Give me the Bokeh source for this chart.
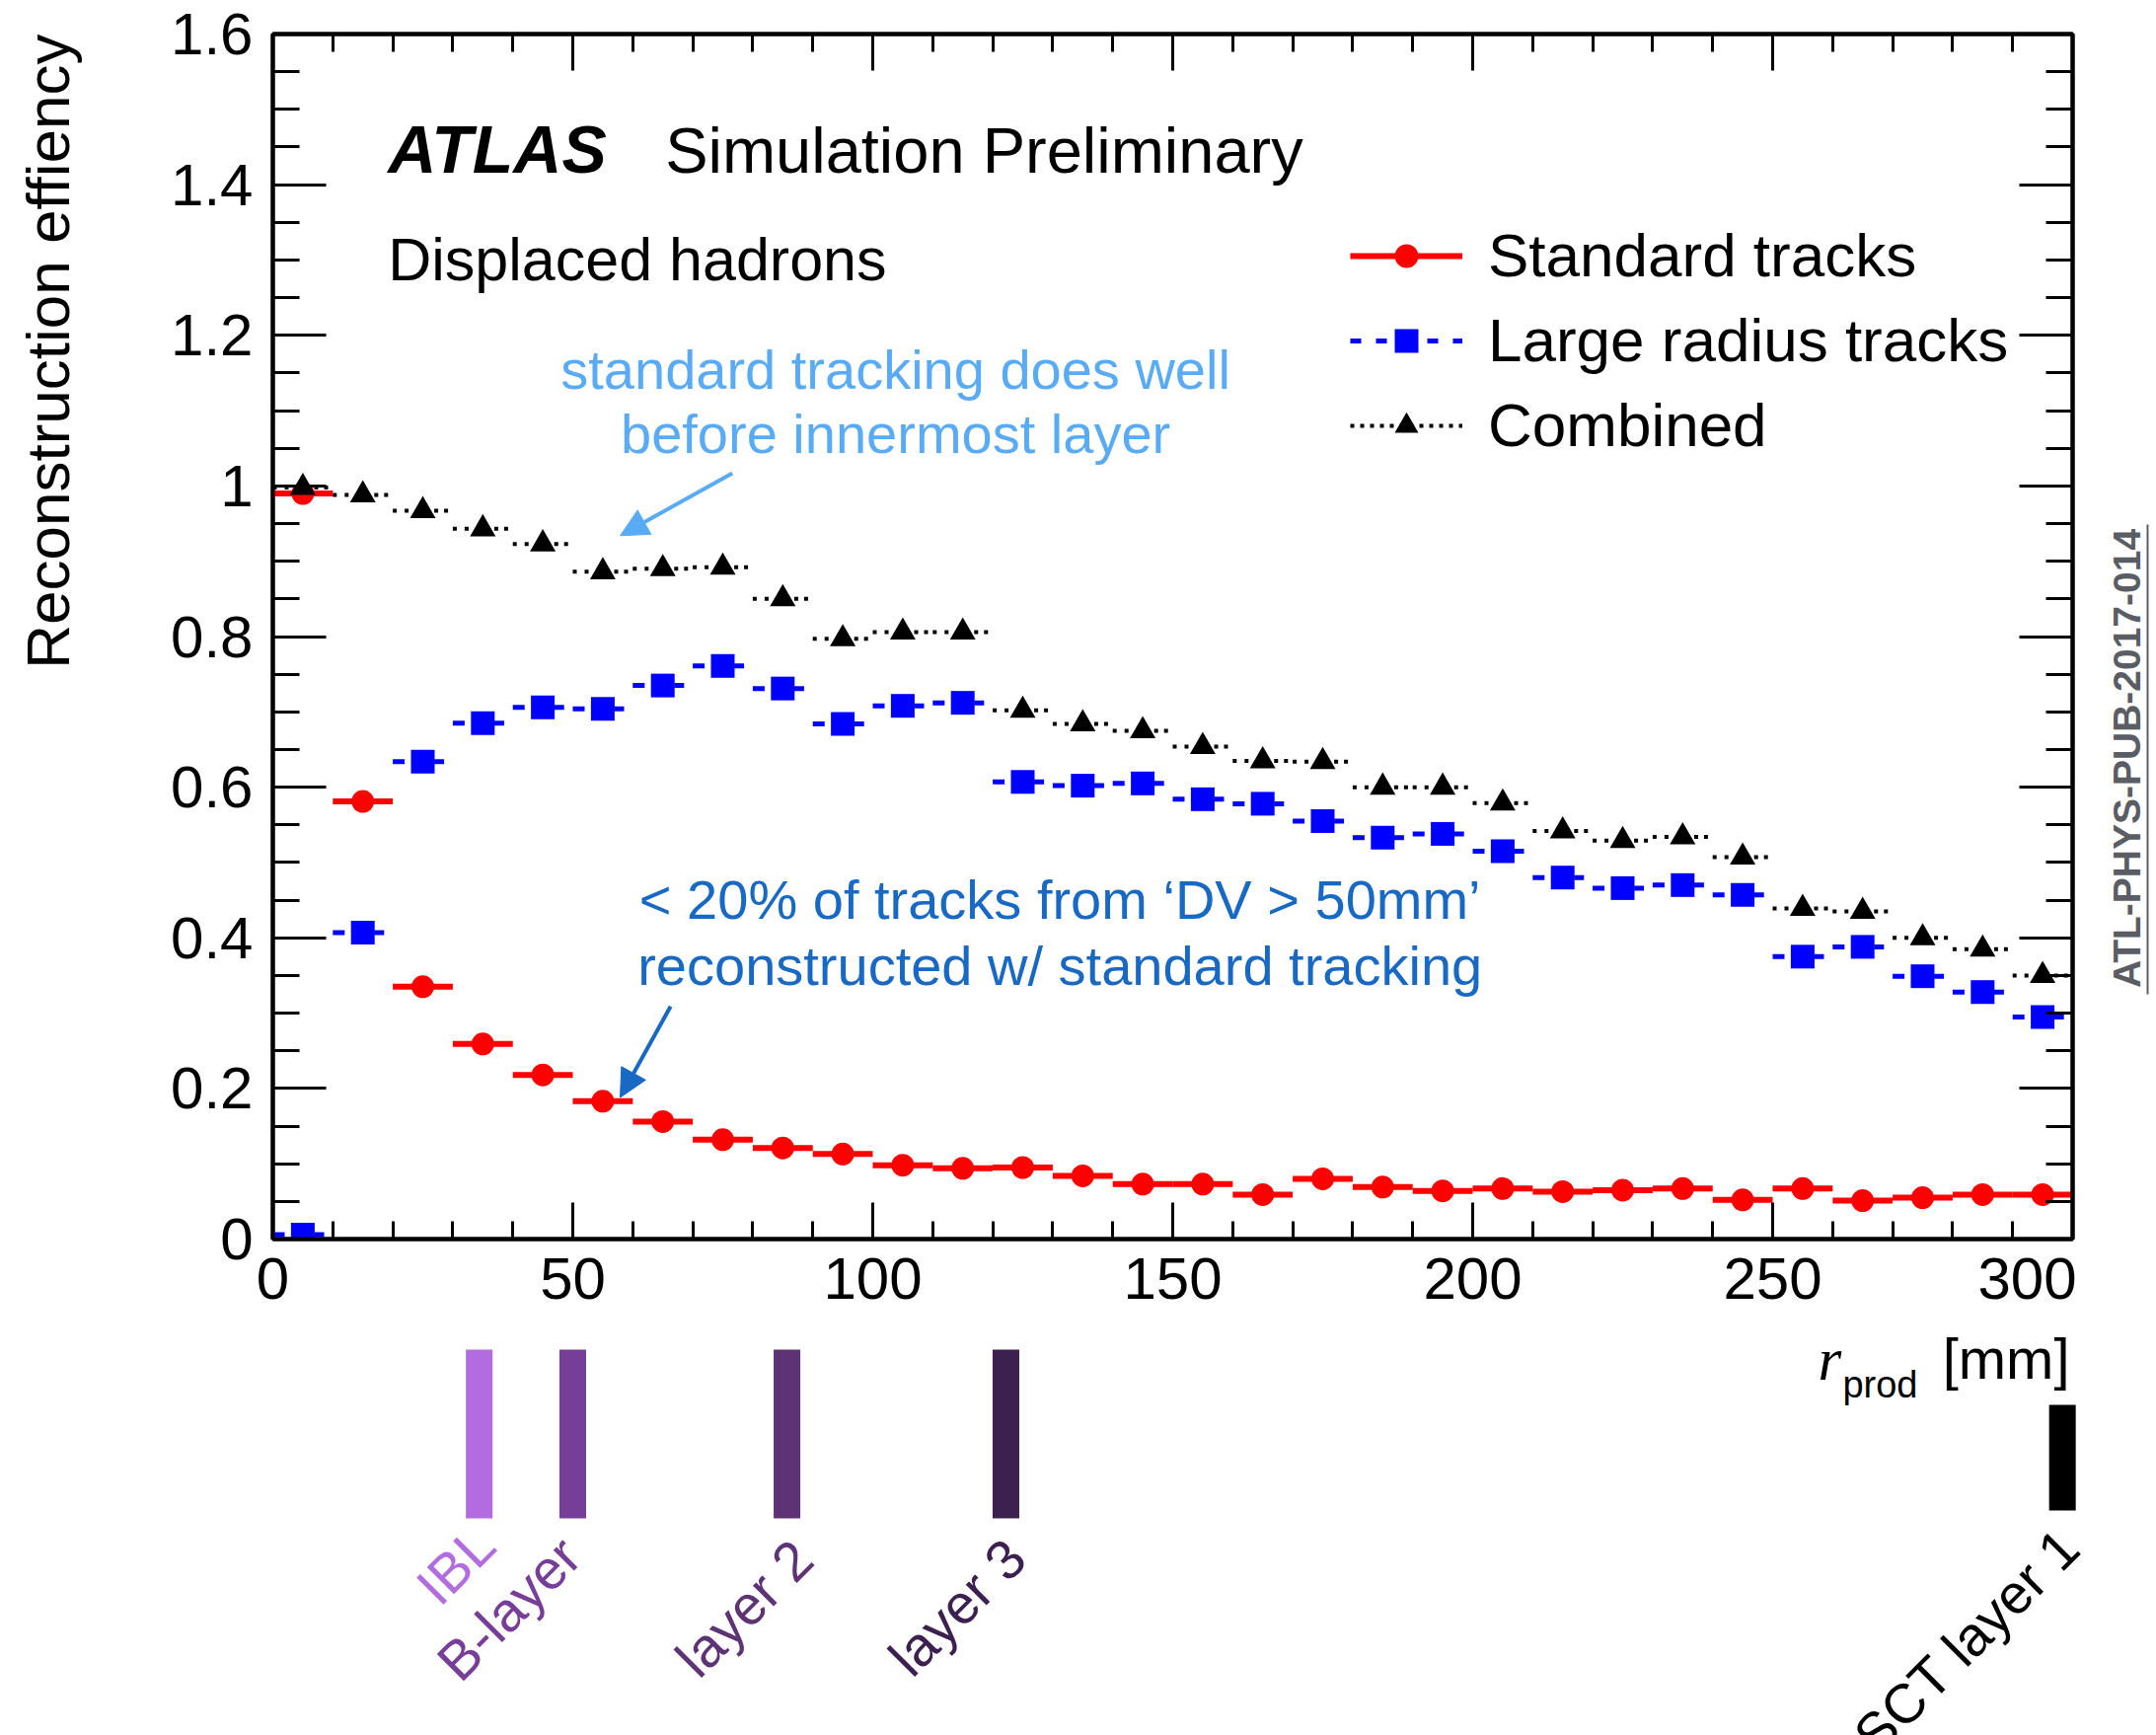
import math
from bokeh.plotting import figure
from bokeh.models import (Range1d, LinearAxis, SingleIntervalTicker, Label, Arrow,
                          NormalHead, Legend, LegendItem, ColumnDataSource, CustomJSTickFormatter)
from bokeh.layouts import column, row
from bokeh.embed import file_html
from bokeh.resources import INLINE

# ---------------- data ----------------
r_centers = [5, 15, 25, 35, 45, 55, 65, 75, 85, 95, 105, 115, 125, 135, 145,
             155, 165, 175, 185, 195, 205, 215, 225, 235, 245, 255, 265, 275, 285, 295]
bin_half = 5

standard = [0.990, 0.581, 0.335, 0.259, 0.218, 0.183, 0.156, 0.132, 0.121, 0.113,
            0.098, 0.094, 0.095, 0.084, 0.073, 0.073, 0.059, 0.080, 0.069, 0.064,
            0.067, 0.063, 0.065, 0.067, 0.052, 0.067, 0.051, 0.055, 0.059, 0.059]
large_radius = [0.006, 0.407, 0.634, 0.685, 0.706, 0.704, 0.735, 0.761, 0.731, 0.684,
                0.708, 0.712, 0.607, 0.602, 0.605, 0.584, 0.578, 0.555, 0.533, 0.538,
                0.515, 0.480, 0.466, 0.470, 0.457, 0.375, 0.388, 0.349, 0.328, 0.295]
combined = [0.998, 0.988, 0.967, 0.943, 0.923, 0.886, 0.890, 0.892, 0.850, 0.797,
            0.806, 0.806, 0.702, 0.684, 0.675, 0.654, 0.635, 0.634, 0.600, 0.600,
            0.579, 0.542, 0.529, 0.534, 0.507, 0.439, 0.435, 0.400, 0.385, 0.350]

series_names = ["Standard tracks", "Large radius tracks", "Combined"]

x_ticks_interval = 50
y_ticks_interval = 0.2

layer_names = ["IBL", "B-layer", "layer 2", "layer 3", "SCT layer 1"]
layer_radii = [34.4, 50.0, 85.7, 122.2, 298.3]
layer_colors = ["#b36be0", "#773e99", "#5d3376", "#3c2050", "#000000"]

y_title = "Reconstruction effiency"
doc_ref = "ATL-PHYS-PUB-2017-014"

# ---------------- layout / styles ----------------
FONT = "Liberation Sans"
RED, BLUE, BLACK = "#ff0000", "#0000ff", "#000000"
LIGHTBLUE, DARKBLUE = "#5aabf5", "#1769c4"
GREY = "#5a5e64"
DESC = 0.21  # font descent (em): baseline placed at y with "bottom" anchoring + offset

W = 2185
H_TOP = 1343                 # height of the upper row (plot + side strips)
H_LOW = 1758 - H_TOP         # detector-layer strip
W_LEFT_STRIP = 100           # strip holding the y-axis title
W_RIGHT_STRIP = 81           # strip holding the document reference
FRAME_L, FRAME_R, FRAME_T, FRAME_B = 276, 2100, 34, 1255
W_MAIN = W - W_LEFT_STRIP - W_RIGHT_STRIP
X0, X1 = 0, 300
px_per_unit = (FRAME_R - FRAME_L) / (X1 - X0)


def bare(width, height, xr, yr):
    f = figure(width=width, height=height, x_range=xr, y_range=yr, output_backend="svg",
               toolbar_location=None, min_border_left=0, min_border_right=0, min_border_top=0,
               min_border_bottom=0, x_axis_location=None, y_axis_location=None,
               outline_line_color=None)
    f.frame_align = False
    f.grid.visible = False
    f.background_fill_color = "white"
    f.border_fill_color = "white"
    return f


# ---------------- main plot ----------------
p = figure(width=W_MAIN, height=H_TOP, x_range=Range1d(X0, X1), y_range=Range1d(0, 1.6),
           output_backend="svg", toolbar_location=None,
           min_border_left=FRAME_L - W_LEFT_STRIP, min_border_right=W - W_RIGHT_STRIP - FRAME_R,
           min_border_top=FRAME_T, min_border_bottom=H_TOP - FRAME_B)
p.frame_align = False
p.xgrid.visible = False
p.ygrid.visible = False
p.outline_line_color = "black"
p.outline_line_width = 4
p.background_fill_color = "white"
p.border_fill_color = "white"

empty_fmt = CustomJSTickFormatter(code="return ''")


def style_x(ax, labels):
    ax.ticker = SingleIntervalTicker(interval=x_ticks_interval, num_minor_ticks=5)
    ax.major_tick_in = 37
    ax.major_tick_out = 0
    ax.minor_tick_in = 18
    ax.minor_tick_out = 0
    ax.major_tick_line_width = 3
    ax.minor_tick_line_width = 3
    ax.axis_line_width = 4
    ax.major_label_text_font = FONT
    ax.major_label_text_font_size = "60px"
    ax.major_label_text_color = "black"
    if labels:
        ax.major_label_standoff = 19
    else:
        ax.formatter = empty_fmt
        ax.major_label_standoff = 0


def style_y(ax, labels):
    ax.ticker = SingleIntervalTicker(interval=y_ticks_interval, num_minor_ticks=4)
    ax.major_tick_in = 54
    ax.major_tick_out = 0
    ax.minor_tick_in = 27
    ax.minor_tick_out = 0
    ax.major_tick_line_width = 3
    ax.minor_tick_line_width = 3
    ax.axis_line_width = 4
    ax.major_label_text_font = FONT
    ax.major_label_text_font_size = "60px"
    ax.major_label_text_color = "black"
    if labels:
        ax.formatter = CustomJSTickFormatter(code="return Number(tick.toFixed(2)).toString()")
        ax.major_label_standoff = 20
    else:
        ax.formatter = empty_fmt
        ax.major_label_standoff = 0


style_x(p.xaxis[0], True)
style_y(p.yaxis[0], True)
top_ax = LinearAxis()
style_x(top_ax, False)
p.add_layout(top_ax, "above")
right_ax = LinearAxis()
style_y(right_ax, False)
p.add_layout(right_ax, "right")

# ---------------- series ----------------
x_lo = [c - bin_half for c in r_centers]
x_hi = [c + bin_half for c in r_centers]

src_std = ColumnDataSource(dict(x=r_centers, x0=x_lo, x1=x_hi, y=standard))
src_lrt = ColumnDataSource(dict(x=r_centers, x0=x_lo, x1=x_hi, y=large_radius))
src_cmb = ColumnDataSource(dict(x=r_centers, x0=x_lo, x1=x_hi, y=combined))

p.segment(x0="x0", x1="x1", y0="y", y1="y", source=src_std, line_color=RED, line_width=6,
          line_cap="butt")
p.scatter(x="x", y="y", source=src_std, marker="circle", size=23, fill_color=RED, line_color=None)

p.segment(x0="x0", x1="x1", y0="y", y1="y", source=src_lrt, line_color=BLUE, line_width=5,
          line_dash="12 30 10 20", line_cap="butt")
p.scatter(x="x", y="y", source=src_lrt, marker="square", size=24, fill_color=BLUE, line_color=None)

p.segment(x0="x0", x1="x1", y0="y", y1="y", source=src_cmb, line_color=BLACK, line_width=4,
          line_dash="4 8 4 26 4 6 4 10", line_cap="butt")
p.scatter(x="x", y="y", source=src_cmb, marker="triangle", size=26, fill_color=BLACK, line_color=None)

# ---------------- legend (legend-only renderers, one point far outside the frame) ----------------
leg_src = ColumnDataSource(dict(x=[-1000.0], y=[-1000.0]))
l1 = p.line(x="x", y="y", source=leg_src, line_color=RED, line_width=6)
m1 = p.scatter(x="x", y="y", source=leg_src, marker="circle", fill_color=RED, line_color=None)
l2 = p.line(x="x", y="y", source=leg_src, line_color=BLUE, line_width=5, line_dash="11 15")
m2 = p.scatter(x="x", y="y", source=leg_src, marker="square", fill_color=BLUE, line_color=None)
l3 = p.line(x="x", y="y", source=leg_src, line_color=BLACK, line_width=4, line_dash="4 6")
m3 = p.scatter(x="x", y="y", source=leg_src, marker="triangle", fill_color=BLACK, line_color=None)

legend = Legend(items=[LegendItem(label=series_names[0], renderers=[l1, m1]),
                       LegendItem(label=series_names[1], renderers=[l2, m2]),
                       LegendItem(label=series_names[2], renderers=[l3, m3])],
                location=(1092, 789), glyph_width=114, glyph_height=60, label_standoff=26,
                spacing=15, padding=10, margin=0,
                label_text_font=FONT, label_text_font_size="62px", label_text_color="black",
                border_line_color=None, background_fill_alpha=0)
p.add_layout(legend)


# ---------------- texts ----------------
def text_label(x, y, text, fs, color="black", align="left", style="normal", font=FONT):
    return Label(x=x, y=y, text=text, text_font=font, text_font_size=f"{fs}px",
                 text_font_style=style, text_color=color, text_align=align,
                 text_baseline="bottom", y_offset=-round(DESC * fs))


p.add_layout(text_label(19.2, 1.416, "ATLAS", 68, style="bold italic"))
p.add_layout(text_label(65.4, 1.416, "Simulation Preliminary", 65))
p.add_layout(text_label(19.2, 1.2725, "Displaced hadrons", 61))

p.add_layout(text_label(103.8, 1.129, "standard tracking does well", 56, LIGHTBLUE, "center"))
p.add_layout(text_label(103.8, 1.044, "before innermost layer", 56, LIGHTBLUE, "center"))
p.add_layout(Arrow(end=NormalHead(size=28, fill_color=LIGHTBLUE, line_color=LIGHTBLUE),
                   x_start=76.6, y_start=1.017, x_end=57.9, y_end=0.934,
                   line_color=LIGHTBLUE, line_width=4))

p.add_layout(text_label(131.2, 0.425, "< 20% of tracks from \u2018DV > 50mm\u2019", 56, DARKBLUE,
                        "center"))
p.add_layout(text_label(131.2, 0.3374, "reconstructed w/ standard tracking", 56, DARKBLUE,
                        "center"))
p.add_layout(Arrow(end=NormalHead(size=28, fill_color=DARKBLUE, line_color=DARKBLUE),
                   x_start=66.3, y_start=0.309, x_end=57.9, y_end=0.188,
                   line_color=DARKBLUE, line_width=4))

# ---------------- left strip: y-axis title (top-aligned, ROOT style) ----------------
pl = bare(W_LEFT_STRIP, H_TOP, Range1d(0, W_LEFT_STRIP), Range1d(H_TOP, 0))
pl.add_layout(Label(x=82, y=FRAME_T, text=y_title, angle=math.pi / 2, text_align="right",
                    text_baseline="bottom", text_font=FONT, text_font_size="62px",
                    text_color="black"))

# ---------------- right strip: document reference with underline ----------------
RS0 = W - W_RIGHT_STRIP
pr = bare(W_RIGHT_STRIP, H_TOP, Range1d(RS0, W), Range1d(H_TOP, 0))
pr.add_layout(Label(x=2176, y=768, text=doc_ref, angle=math.pi / 2, text_align="center",
                    text_baseline="bottom", text_font=FONT, text_font_size="39px",
                    text_font_style="bold", text_color=GREY))
pr.segment(x0=[2176], x1=[2176], y0=[531], y1=[1007], line_color=GREY, line_width=2)

# ---------------- lower strip: detector layers (same mm scale) ----------------
p2 = bare(W, H_LOW, Range1d(X0 - FRAME_L / px_per_unit, X1 + (W - FRAME_R) / px_per_unit),
          Range1d(1758, H_TOP))

bar_top = [1367, 1367, 1367, 1367, 1423]
bar_bottom = [1538, 1538, 1538, 1538, 1530]
src_layers = ColumnDataSource(dict(x=layer_radii, top=bar_top, bottom=bar_bottom, color=layer_colors))
p2.segment(x0="x", x1="x", y0="top", y1="bottom", source=src_layers, line_color="color",
           line_width=27, line_cap="butt")

LFS = 56
d45 = round(DESC * LFS * math.sqrt(0.5))
label_dx = [3.3, 2.0, 5.0, 4.0, 3.6]
label_y = [1570, 1581, 1584, 1583, 1572]
for name, rad, col, dx, ly in zip(layer_names, layer_radii, layer_colors, label_dx, label_y):
    p2.add_layout(Label(x=rad + dx, y=ly, text=name, angle=math.radians(45),
                        x_offset=d45, y_offset=-d45,
                        text_align="right", text_baseline="bottom",
                        text_font=FONT, text_font_size=f"{LFS}px", text_color=col))

# x-axis title: r_prod [mm], right-aligned at the end of the axis
p2.add_layout(Label(x=X1, y=1396, x_offset=-3, y_offset=-round(DESC * 58), text="[mm]",
                    text_align="right", text_baseline="bottom", text_font=FONT,
                    text_font_size="58px", text_color="black"))
p2.add_layout(Label(x=X1, y=1415, x_offset=-157, y_offset=-round(DESC * 38), text="prod",
                    text_align="right", text_baseline="bottom", text_font=FONT,
                    text_font_size="38px", text_color="black"))
p2.add_layout(Label(x=X1, y=1397, x_offset=-258, y_offset=-round(DESC * 61), text="r",
                    text_align="left", text_baseline="bottom", text_font="Liberation Serif",
                    text_font_size="61px", text_font_style="italic", text_color="black"))

layout = column(row(pl, p, pr, spacing=0), p2, spacing=0)
open("out.html", "w").write(file_html(layout, INLINE))
